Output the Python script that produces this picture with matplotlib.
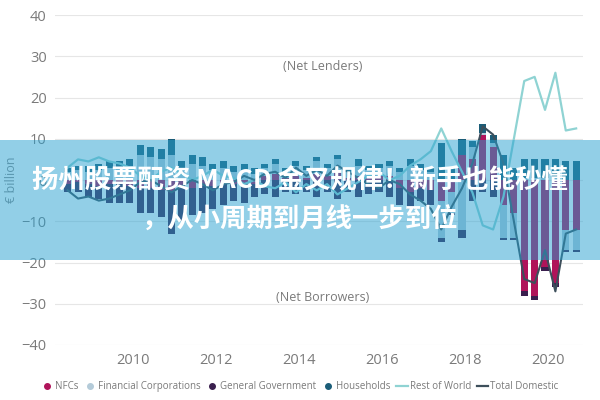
import numpy as np
import matplotlib.pyplot as plt
from matplotlib.lines import Line2D
from matplotlib.patches import Rectangle

# -----------------------------
# Data: quarterly net lending by sector, EUR billion (2008Q2 - 2020Q3)
# -----------------------------
years = [2008] * 3 + [y for y in range(2009, 2020) for _ in range(4)] + [2020] * 3
quarters = [2, 3, 4] + [1, 2, 3, 4] * 11 + [1, 2, 3]

nfcs = [-1.0, -0.5, -1.0, -1.5, -1.0, -1.0, -1.5, -2.0, -2.0, -2.5, -3.0, -2.0, -2.0, -1.5, -1.5, -1.0, -1.0,
        -1.0, -1.0, 1.0, 1.5, 0.5, 1.0, 0.5, 1.5, 1.0, 2.0, 0.5, 1.0, 0.5, 1.0, 1.0, -2.0, -3.0, -2.0,
        -2.5, -5.0, -3.0, 6.0, 5.0, 11.0, 8.0, -6.0, -8.0, -27.0, -28.0, -21.0, -25.0, -12.0, -12.0]
fin_corps = [2.0, 2.5, 2.0, 2.5, 3.0, 3.0, 3.5, 6.0, 5.5, 5.0, 6.0, 3.0, 4.0, 3.5, 2.5, 3.0, 2.0,
             2.5, 1.5, 2.0, 2.5, 1.5, 2.5, 2.0, 3.0, 2.0, 3.0, 1.5, 2.5, 2.0, 2.0, 2.5, 2.0, 3.5, 2.5,
             2.0, -9.0, -5.0, -12.0, 3.0, 0.5, 1.0, -8.0, -6.0, 0.5, 0.5, 0.5, 0.5, -5.0, -5.0]
gen_gov = [-2.0, -2.5, -3.0, -3.0, -4.5, -4.5, -4.0, -6.0, -6.0, -6.5, -10.0, -8.0, -6.5, -6.5, -5.5, -5.0, -4.0,
           -4.5, -3.0, -3.5, -4.0, -3.0, -3.5, -3.0, -4.0, -3.0, -4.5, -3.0, -4.0, -3.5, -3.0, -4.0, -4.0, -4.0, -3.0,
           -3.5, -1.0, -0.5, -2.0, -5.0, -3.0, -4.0, -0.5, -0.5, -1.0, -1.0, -1.0, -1.0, -0.5, -0.5]
households = [1.0, 1.0, 1.5, 1.5, 1.5, 1.5, 1.5, 2.5, 2.5, 2.5, 4.0, 1.5, 2.0, 2.0, 1.5, 1.5, 1.5,
              1.5, 1.5, 1.0, 1.0, 1.0, 1.0, 1.0, 1.0, 1.0, 1.0, 1.0, 1.5, 1.0, 1.0, 1.0, 1.0, 1.5, 1.5,
              1.0, 9.0, 3.0, 4.0, 1.5, 2.0, 2.0, 6.0, 3.0, 4.5, 4.5, 4.5, 4.5, 4.5, 4.5]

rest_of_world = [3.0, 5.0, 4.5, 5.5, 4.5, 4.0, 3.0, 1.0, 0.0, 2.0, 3.0, 1.5, 0.0, 1.0, 2.5, 1.0, 0.5,
                 -1.0, 0.0, -1.5, -2.0, -0.5, -3.0, -1.0, -2.5, -1.0, -3.5, -2.0, -0.5, 1.0, 2.0, 0.0, 1.0,
                 3.5, 5.0, 7.0, 12.5, 7.0, 2.0, -3.0, -11.0, -12.0, -4.0, 10.0, 24.0, 25.0, 17.0, 26.0, 12.0, 12.5]
total_domestic = [-2.5, -4.5, -4.0, -5.0, -4.5, -3.5, -2.5, -0.5, 0.0, -1.5, -3.0, -1.5, 0.0, -1.0, -2.5, -1.0,
                  -0.5, 1.0, 0.0, 1.5, 2.0, 0.5, 3.0, 1.0, 2.5, 1.0, 3.5, 2.0, 0.5, -1.0, -2.0, 0.0, -1.0,
                  -3.5, -5.0, -7.0, -12.0, -6.5, -2.0, 4.0, 13.0, 11.0, 4.0, -10.0, -24.0, -25.0, -17.0, -27.0, -13.0, -12.0]

series = [("NFCs", nfcs, "#b0145a"),
          ("Financial Corporations", fin_corps, "#b4cbd9"),
          ("General Government", gen_gov, "#3a1f4e"),
          ("Households", households, "#1b5d78")]

x = np.array(years) + (np.array(quarters) - 1) / 4 + 0.17

# -----------------------------
# Plot
# -----------------------------
plt.rcParams['font.family'] = ['Open Sans', 'DejaVu Sans']
fig = plt.figure(figsize=(6, 4), dpi=100)
ax = fig.add_axes([0.092, 0.1375, 0.88, 0.825])

pos_base = np.zeros(len(x))
neg_base = np.zeros(len(x))
for name, vals, color in series:
    v = np.array(vals)
    pos = np.where(v > 0, v, 0)
    neg = np.where(v < 0, v, 0)
    ax.bar(x, pos, width=0.17, bottom=pos_base, color=color, zorder=2)
    ax.bar(x, neg, width=0.17, bottom=neg_base, color=color, zorder=2)
    pos_base += pos
    neg_base += neg

ax.plot(x, rest_of_world, color="#8fd3d3", lw=1.6, zorder=3)
ax.plot(x, total_domestic, color="#3d4f5b", lw=1.5, zorder=3)

ax.set_xlim(2008.12, 2020.84)
ax.set_ylim(-40, 40)
ax.set_yticks(range(-40, 41, 10))
ax.set_xticks(range(2010, 2021, 2))
ax.grid(axis="y", color="#e6e6e6", lw=0.8, zorder=0)
ax.tick_params(length=0, labelsize=10.5, labelcolor="#7a7a7a", pad=6)
for s in ax.spines.values():
    s.set_visible(False)
ax.set_ylabel("€ billion", color="#8a8a8a", fontsize=9)
ax.yaxis.set_label_coords(-0.07, 0.5)

ax.text(2014.57, 27.5, "(Net Lenders)", color="#7a7a7a", fontsize=9, ha="center", va="center")
ax.text(2014.57, -28.5, "(Net Borrowers)", color="#7a7a7a", fontsize=9, ha="center", va="center")

handles = [Line2D([], [], marker="o", ls="", color=c, markersize=4) for _, _, c in series]
handles += [Line2D([], [], color="#8fd3d3", lw=1.6), Line2D([], [], color="#3d4f5b", lw=1.6)]
labels = [n for n, _, _ in series] + ["Rest of World", "Total Domestic"]
leg = fig.legend(handles, labels, loc="center", bbox_to_anchor=(0.5, 0.033), ncol=6, frameon=False,
                 fontsize=7, handlelength=1.2, handletextpad=0.2, columnspacing=0.6)
for t in leg.get_texts():
    t.set_color("#7a7a7a")

# -----------------------------
# Overlay banner
# -----------------------------
fig.patches.append(Rectangle((0, 0.35), 1, 0.30, transform=fig.transFigure, lw=0,
                             facecolor=(39 / 255, 161 / 255, 209 / 255), alpha=0.5, zorder=10))
cjk = ['Noto Sans CJK SC', 'DejaVu Sans']
fig.text(0.5, 0.548, "扬州股票配资 MACD 金叉规律！新手也能秒懂", family=cjk, fontsize=19,
         weight="bold", color="white", ha="center", va="center", zorder=11)
fig.text(0.5, 0.45, "，从小周期到月线一步到位", family=cjk, fontsize=19,
         weight="bold", color="white", ha="center", va="center", zorder=11)

fig.savefig("out.png", dpi=100)
